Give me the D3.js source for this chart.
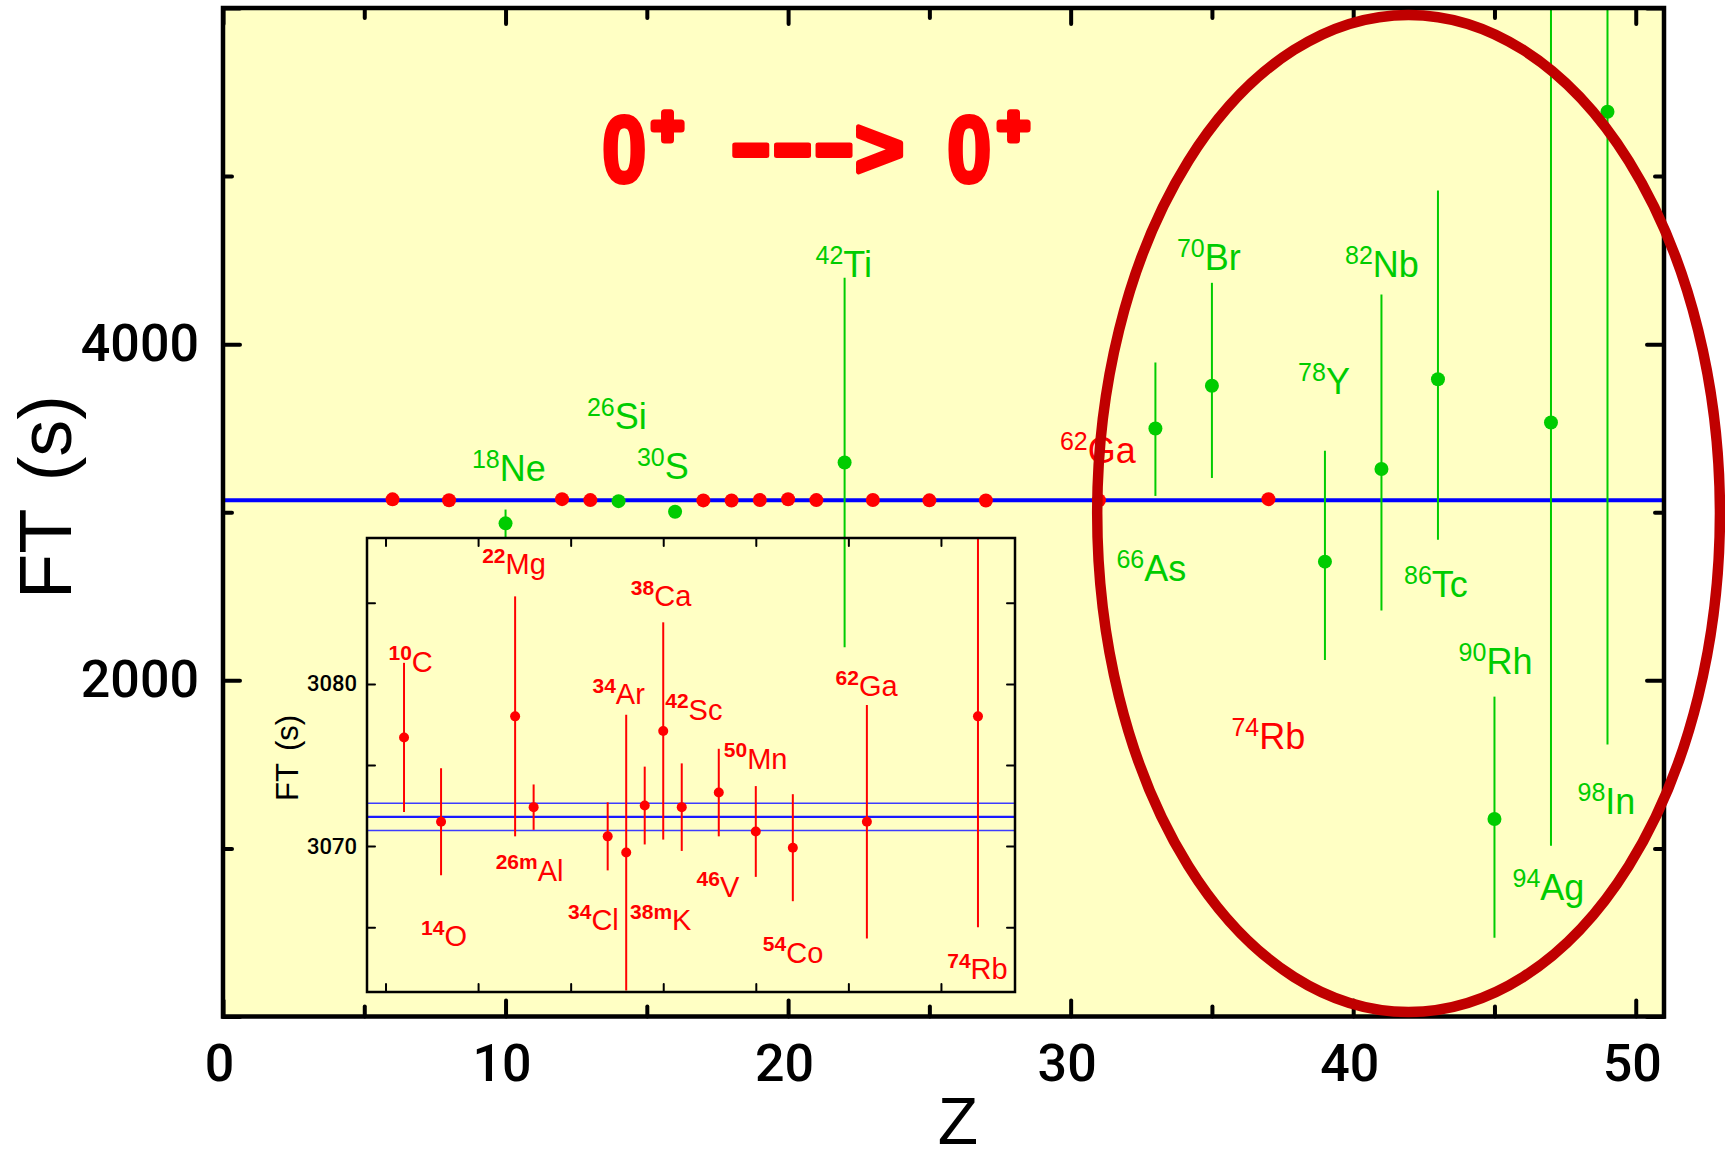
<!DOCTYPE html>
<html>
<head>
<meta charset="utf-8">
<script src="https://cdn.jsdelivr.net/npm/d3@7"></script>
<style>
  html, body { margin: 0; padding: 0; background: #ffffff; }
  svg { display: block; }
  .sans { font-family: "Liberation Sans", Arial, sans-serif; }
  .num  { font-family: Roboto, "Liberation Sans", Arial, sans-serif; }
</style>
</head>
<body>
<svg id="chart" width="1725" height="1160"></svg>
<script>
// ---- data: superallowed 0+ -> 0+ beta decays, corrected Ft values (s) ----
const measuredNames = ["10C", "14O", "22Mg", "26mAl", "34Cl", "34Ar", "38mK", "38Ca", "42Sc", "46V", "50Mn", "54Co", "62Ga", "74Rb"];
const measuredZ     = [6, 8, 12, 13, 17, 18, 19, 20, 21, 23, 25, 27, 31, 37];
const measuredFt    = [3076.7, 3071.5, 3078.0, 3072.4, 3070.6, 3069.6, 3072.5, 3077.1, 3072.4, 3073.3, 3070.9, 3069.9, 3071.5, 3078.0];
const measuredErr   = [4.6, 3.3, 7.4, 1.4, 2.1, 8.5, 2.4, 6.7, 2.7, 2.7, 2.8, 3.3, 7.2, 13.0];

const otherNames   = ["18Ne", "26Si", "30S", "42Ti", "66As", "70Br", "78Y", "82Nb", "86Tc", "90Rh", "94Ag", "98In"];
const otherZ       = [10, 14, 16, 22, 33, 35, 39, 41, 43, 45, 47, 49];
const otherFt      = [2934, 3066, 3003, 3296, 3498, 3753, 2706, 3257, 3791, 1175, 3534, 5383];
const otherErrUp   = [82, 10, 10, 1099, 393, 612, 660, 1038, 1123, 728, 2518, 3765];
const otherErrDown = [82, 10, 10, 1099, 401, 549, 585, 842, 954, 706, 2518, 3765];

const meanFt  = 3071.8;
const meanErr = 0.84;

const mainXTicks      = [0, 10, 20, 30, 40, 50];
const mainXMinorTicks = [5, 15, 25, 35, 45];
const mainYTicks      = [0, 2000, 4000, 6000];
const mainYLabels     = [2000, 4000];
const mainYMinorTicks = [1000, 3000, 5000];
const insetXTicks     = [5, 10, 15, 20, 25, 30, 35];
const insetYTicks     = [3065, 3070, 3075, 3080, 3085];
const insetYLabels    = [3070, 3080];

// ---- annotation placement (start of label, baseline), in each panel's data units ----
const mainLabelSpots = [
  ["18Ne", 8.81, 3186], ["26Si", 12.88, 3498], ["30S", 14.65, 3195], ["42Ti", 20.97, 4397],
  ["62Ga", 29.62, 3293], ["70Br", 33.76, 4441], ["82Nb", 39.71, 4400], ["78Y", 38.05, 3701],
  ["66As", 31.62, 2591], ["86Tc", 41.80, 2493], ["90Rh", 43.73, 2038], ["74Rb", 35.69, 1594],
  ["98In", 47.94, 1202], ["94Ag", 45.64, 693]
];
const insetLabelSpots = [
  ["10C", 5.16, 3080.75], ["14O", 6.92, 3063.81], ["22Mg", 10.22, 3086.76], ["26mAl", 10.95, 3067.85],
  ["34Cl", 14.86, 3064.82], ["34Ar", 16.18, 3078.74], ["38mK", 18.21, 3064.82], ["38Ca", 18.25, 3084.78],
  ["42Sc", 20.11, 3077.78], ["46V", 21.80, 3066.83], ["50Mn", 23.27, 3074.76], ["54Co", 25.38, 3062.81],
  ["62Ga", 29.31, 3079.24], ["74Rb", 35.34, 3061.80]
];

const RED = "#ff0000", GREEN = "#00cc00", BLUE = "#0000ff", DARKRED = "#c00000", PAPER = "#ffffc4";

const svg = d3.select("#chart");

// ---- main panel ----
const frame = { left: 223, right: 1664, top: 8, bottom: 1016.5 };
const x = d3.scaleLinear().domain([0, 51]).range([frame.left, frame.right]);
const y = d3.scaleLinear().domain([0, 6000]).range([frame.bottom, frame.top]);

svg.append("rect")
  .attr("x", frame.left).attr("y", frame.top)
  .attr("width", frame.right - frame.left).attr("height", frame.bottom - frame.top)
  .attr("fill", PAPER);

svg.append("clipPath").attr("id", "mainClip").append("rect")
  .attr("x", frame.left).attr("y", frame.top)
  .attr("width", frame.right - frame.left).attr("height", frame.bottom - frame.top);

// axes with inward ticks
function styleAxis(g, width) {
  g.select(".domain").remove();
  g.selectAll(".tick line").attr("stroke", "#000").attr("stroke-width", width).attr("stroke-linecap", "round");
}
const gx = svg.append("g").attr("transform", `translate(0,${frame.bottom})`)
  .call(d3.axisBottom(x).tickValues(mainXTicks).tickSize(-16).tickPadding(27.5).tickFormat(d3.format("d")));
styleAxis(gx, 4);
gx.selectAll("text").attr("class", "num").attr("font-size", 52).attr("font-weight", 500).attr("fill", "#000").attr("dx", -4);
styleAxis(svg.append("g").attr("transform", `translate(0,${frame.bottom})`)
  .call(d3.axisBottom(x).tickValues(mainXMinorTicks).tickSize(-10).tickFormat("")), 4);
styleAxis(svg.append("g").attr("transform", `translate(0,${frame.top})`)
  .call(d3.axisTop(x).tickValues(mainXTicks).tickSize(-16).tickFormat("")), 4);
styleAxis(svg.append("g").attr("transform", `translate(0,${frame.top})`)
  .call(d3.axisTop(x).tickValues(mainXMinorTicks).tickSize(-10).tickFormat("")), 4);

const gy = svg.append("g").attr("transform", `translate(${frame.left},0)`)
  .call(d3.axisLeft(y).tickValues(mainYTicks).tickSize(-17).tickPadding(24)
    .tickFormat(d => mainYLabels.includes(d) ? d3.format("d")(d) : ""));
styleAxis(gy, 4);
gy.selectAll("text").attr("class", "num").attr("font-size", 52).attr("font-weight", 500).attr("fill", "#000");
styleAxis(svg.append("g").attr("transform", `translate(${frame.left},0)`)
  .call(d3.axisLeft(y).tickValues(mainYMinorTicks).tickSize(-9).tickFormat("")), 4);
styleAxis(svg.append("g").attr("transform", `translate(${frame.right},0)`)
  .call(d3.axisRight(y).tickValues(mainYTicks).tickSize(-17).tickFormat("")), 4);
styleAxis(svg.append("g").attr("transform", `translate(${frame.right},0)`)
  .call(d3.axisRight(y).tickValues(mainYMinorTicks).tickSize(-9).tickFormat("")), 4);

// axis titles
svg.append("text").attr("class", "sans")
  .attr("x", 958).attr("y", 1144).attr("text-anchor", "middle")
  .attr("font-size", 66).attr("fill", "#000").text("Z");
svg.append("text").attr("class", "sans")
  .attr("transform", "translate(71,497) rotate(-90)").attr("text-anchor", "middle")
  .attr("font-size", 74).attr("fill", "#000").attr("word-spacing", 8).text("FT (s)");

// title: 0+ ---> 0+
const title = svg.append("g").attr("class", "sans")
  .attr("fill", RED).attr("stroke", RED).attr("stroke-linejoin", "round").attr("stroke-linecap", "round")
  .attr("font-weight", "bold");
function zeroGlyph(px) {
  title.append("text").attr("transform", `translate(${px},${y(4965)}) scale(0.85,1)`)
    .attr("font-size", 94).attr("stroke-width", 4).text("0");
}
function plusGlyph(px) {
  title.append("text").attr("x", px).attr("y", 144).attr("text-anchor", "middle")
    .attr("font-size", 54).attr("stroke-width", 7).text("+");
}
zeroGlyph(602); plusGlyph(667.5);
title.append("text").attr("x", 730).attr("y", 175).attr("font-size", 96).attr("stroke-width", 4)
  .attr("textLength", 125).attr("lengthAdjust", "spacingAndGlyphs").text("---");
title.append("text").attr("x", 855).attr("y", 177).attr("font-size", 84).attr("stroke-width", 5).text(">");
zeroGlyph(947); plusGlyph(1013.5);

// average line
svg.append("line")
  .attr("x1", frame.left).attr("x2", frame.right).attr("y1", y(meanFt)).attr("y2", y(meanFt))
  .attr("stroke", BLUE).attr("stroke-width", 4);

// main data
const mainData = svg.append("g").attr("clip-path", "url(#mainClip)");
const others = otherNames.map((n, i) => ({ n, z: otherZ[i], ft: otherFt[i], up: otherErrUp[i], dn: otherErrDown[i] }));
const measured = measuredNames.map((n, i) => ({ n, z: measuredZ[i], ft: measuredFt[i], up: measuredErr[i], dn: measuredErr[i] }));

mainData.selectAll("line.gerr").data(others).join("line").attr("class", "gerr")
  .attr("x1", d => x(d.z)).attr("x2", d => x(d.z))
  .attr("y1", d => y(d.ft + d.up)).attr("y2", d => y(d.ft - d.dn))
  .attr("stroke", GREEN).attr("stroke-width", 2);
mainData.selectAll("line.rerr").data(measured).join("line").attr("class", "rerr")
  .attr("x1", d => x(d.z)).attr("x2", d => x(d.z))
  .attr("y1", d => y(d.ft + d.up)).attr("y2", d => y(d.ft - d.dn))
  .attr("stroke", RED).attr("stroke-width", 2);
mainData.selectAll("circle.r").data(measured).join("circle").attr("class", "r")
  .attr("cx", d => x(d.z)).attr("cy", d => y(d.ft)).attr("r", 7).attr("fill", RED);
mainData.selectAll("circle.g").data(others).join("circle").attr("class", "g")
  .attr("cx", d => x(d.z)).attr("cy", d => y(d.ft)).attr("r", 7).attr("fill", GREEN);

// isotope label: mass number (and isomer mark) raised, then the symbol
function isotope(parent, name, px, py, o) {
  const m = name.match(/^(\d+m?)(.+)$/);
  const t = parent.append("text").attr("class", "sans").attr("x", px).attr("y", py).attr("fill", o.color);
  t.append("tspan").attr("font-size", o.supSize).attr("font-weight", o.supWeight).attr("dy", -o.rise).text(m[1]);
  t.append("tspan").attr("font-size", o.size).attr("dy", o.rise).text(m[2]);
}
const mainLabels = svg.append("g");
mainLabelSpots.forEach(([n, zz, ft]) => {
  const color = measuredNames.includes(n) ? RED : GREEN;
  isotope(mainLabels, n, x(zz), y(ft), { color, size: 36, supSize: 25, supWeight: 400, rise: 13 });
});

// ---- inset: zoom on the well-measured cases ----
const ib = { left: 367, right: 1015, top: 538, bottom: 992 };
const xi = d3.scaleLinear().domain([4, 39]).range([ib.left, ib.right]);
const yi = d3.scaleLinear().domain([3061, 3089]).range([ib.bottom, ib.top]);

svg.append("clipPath").attr("id", "insetClip").append("rect")
  .attr("x", ib.left).attr("y", ib.top).attr("width", ib.right - ib.left).attr("height", ib.bottom - ib.top);

styleAxis(svg.append("g").attr("transform", `translate(0,${ib.bottom})`)
  .call(d3.axisBottom(xi).tickValues(insetXTicks).tickSize(-8).tickFormat("")), 2);
styleAxis(svg.append("g").attr("transform", `translate(0,${ib.top})`)
  .call(d3.axisTop(xi).tickValues(insetXTicks).tickSize(-8).tickFormat("")), 2);
const giy = svg.append("g").attr("transform", `translate(${ib.left},0)`)
  .call(d3.axisLeft(yi).tickValues(insetYTicks).tickSize(-8).tickPadding(10)
    .tickFormat(d => insetYLabels.includes(d) ? d3.format("d")(d) : ""));
styleAxis(giy, 2);
giy.selectAll("text").attr("class", "num").attr("font-size", 22).attr("font-weight", 500).attr("fill", "#000");
styleAxis(svg.append("g").attr("transform", `translate(${ib.right},0)`)
  .call(d3.axisRight(yi).tickValues(insetYTicks).tickSize(-8).tickFormat("")), 2);

svg.append("text").attr("class", "sans")
  .attr("transform", "translate(298,758) rotate(-90)").attr("text-anchor", "middle")
  .attr("font-size", 31).attr("fill", "#000").attr("word-spacing", 4).text("FT (s)");

const insetData = svg.append("g").attr("clip-path", "url(#insetClip)");
[meanFt - meanErr, meanFt, meanFt + meanErr].forEach((v, i) => {
  insetData.append("line")
    .attr("x1", ib.left).attr("x2", ib.right).attr("y1", yi(v)).attr("y2", yi(v))
    .attr("stroke", i === 1 ? "#1a1aff" : "#3c3cff").attr("stroke-width", i === 1 ? 2.2 : 1.6);
});
insetData.selectAll("line.err").data(measured).join("line").attr("class", "err")
  .attr("x1", d => xi(d.z)).attr("x2", d => xi(d.z))
  .attr("y1", d => yi(d.ft + d.up)).attr("y2", d => yi(d.ft - d.dn))
  .attr("stroke", RED).attr("stroke-width", 2);
insetData.selectAll("circle").data(measured).join("circle")
  .attr("cx", d => xi(d.z)).attr("cy", d => yi(d.ft)).attr("r", 5).attr("fill", RED);

const insetLabels = svg.append("g");
insetLabelSpots.forEach(([n, zz, ft]) => {
  isotope(insetLabels, n, xi(zz), yi(ft), { color: RED, size: 29, supSize: 21, supWeight: 700, rise: 11.5 });
});

svg.append("rect")
  .attr("x", ib.left).attr("y", ib.top).attr("width", ib.right - ib.left).attr("height", ib.bottom - ib.top)
  .attr("fill", "none").attr("stroke", "#000").attr("stroke-width", 2.5);

// main frame
svg.append("rect")
  .attr("x", frame.left).attr("y", frame.top)
  .attr("width", frame.right - frame.left).attr("height", frame.bottom - frame.top)
  .attr("fill", "none").attr("stroke", "#000").attr("stroke-width", 4.5);

// highlight of the heavy, not yet measured cases
const ring = { z: 41.96, ft: 2993, dz: 11.02, dft: 2966 };
svg.append("ellipse")
  .attr("cx", x(ring.z)).attr("cy", y(ring.ft))
  .attr("rx", x(ring.z + ring.dz) - x(ring.z)).attr("ry", y(ring.ft - ring.dft) - y(ring.ft))
  .attr("fill", "none").attr("stroke", DARKRED).attr("stroke-width", 10.5);
</script>
</body>
</html>
